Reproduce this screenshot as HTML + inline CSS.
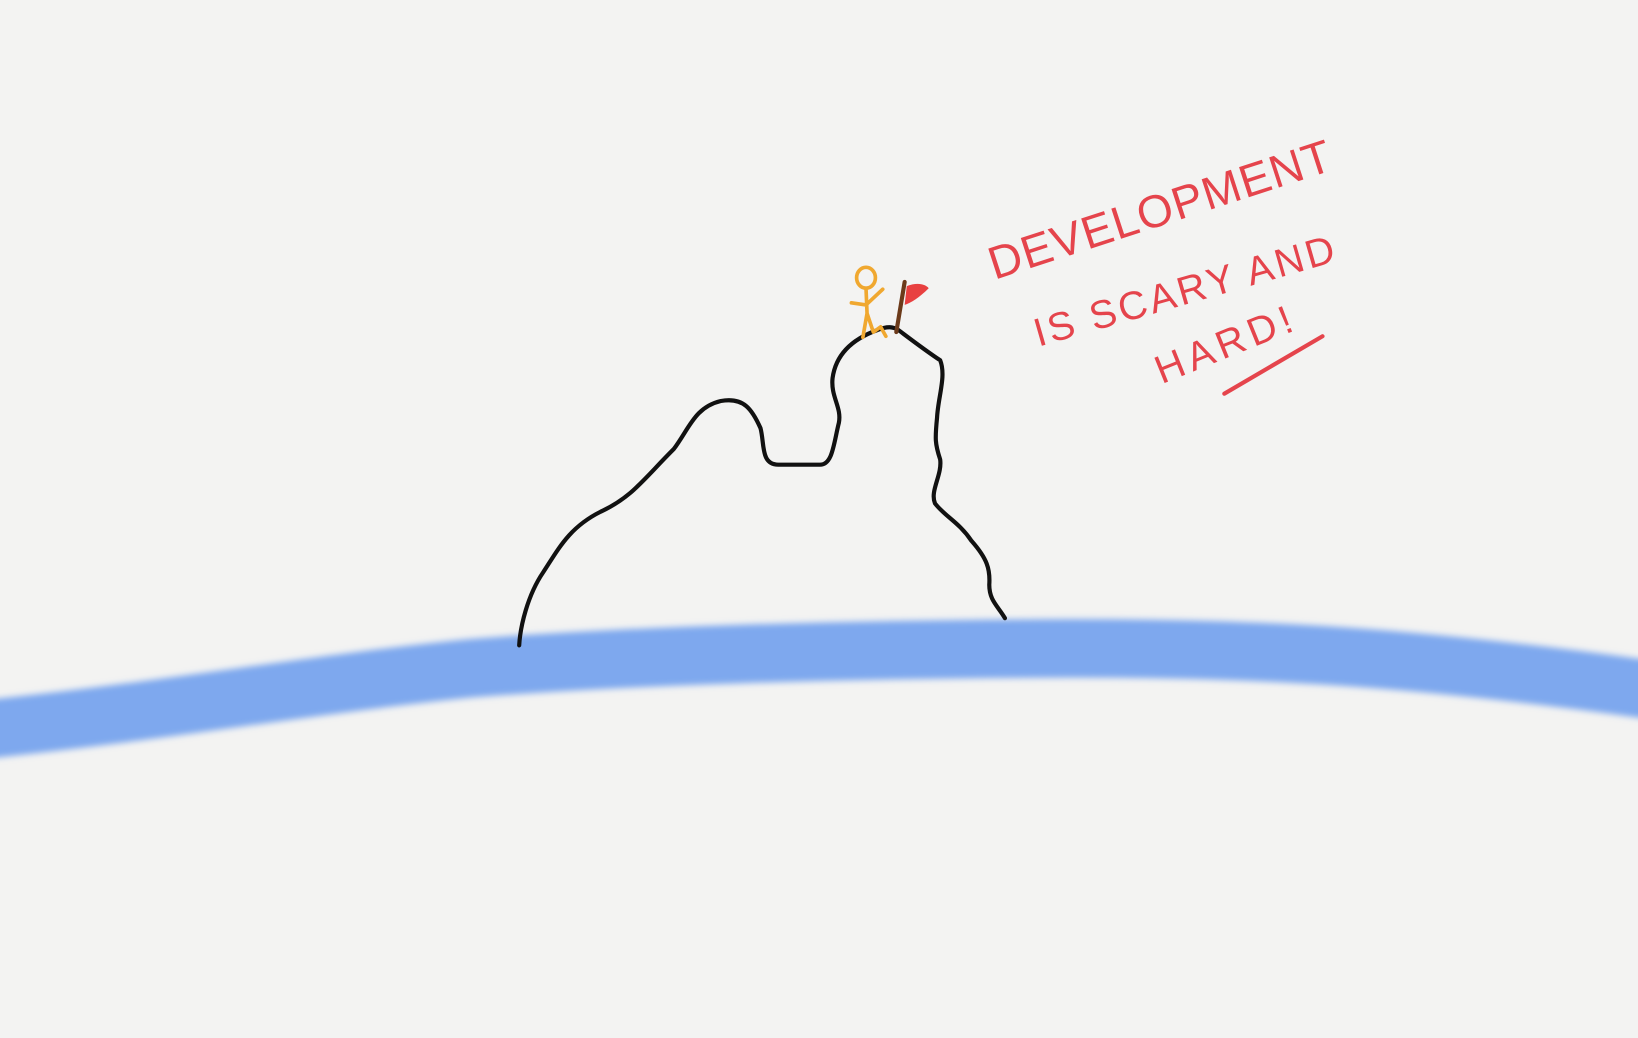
<!DOCTYPE html>
<html><head><meta charset="utf-8"><style>
html,body{margin:0;padding:0;background:#f3f3f2;}
svg{display:block;}
</style></head><body>
<svg width="1638" height="1038" viewBox="0 0 1568 994" preserveAspectRatio="none" xmlns="http://www.w3.org/2000/svg">
<defs>
<filter id="bl" x="-10%" y="-50%" width="120%" height="200%" filterUnits="objectBoundingBox"><feGaussianBlur stdDeviation="3"/></filter>
</defs>
<rect width="1568" height="994" fill="#f3f3f2"/>
<path d="M-20,699 C150,682 300,655 450,640 C600,628 800,622 1000,621 C1200,620 1350,628 1590,662" fill="none" stroke="#7ea8ee" stroke-width="56" filter="url(#bl)"/>
<path d="M497,618 C498,600 505,570 520,548 C535,525 545,505 575,490 C605,476 615,460 645,430 C660,410 665,390 690,384 C712,380 720,392 728,410 C732,425 728,445 745,445 L785,445 C797,445 798,425 803,405 C806,390 795,380 797,362 C800,340 815,325 840,316 C850,312 855,313 860,316 C872,325 885,335 900,345 C906,360 898,380 897,400 C895,420 895,425 900,440 C902,455 890,470 895,482 C905,495 918,500 930,518 C945,535 948,545 947,560 C947,575 955,580 962,592" fill="none" stroke="#111" stroke-width="4" stroke-linecap="round" stroke-linejoin="round"/>
<g stroke="#f0a830" stroke-width="3.5" fill="none" stroke-linecap="round" stroke-linejoin="round">
<ellipse cx="829" cy="266" rx="9" ry="10"/>
<path d="M829,276 L830,300 L836,318 M830,300 L826,323 M815,290 L829,292 L845,277 M836,318 L843,313 L848,322"/>
</g>
<path d="M866,270 L858,318" stroke="#6b3a1a" stroke-width="4" stroke-linecap="round"/>
<path d="M868,274 C878,270 886,272 889,276 C880,285 872,290 866,292 Z" fill="#e84040"/>
<g fill="#e5444c" font-family="'Liberation Sans',sans-serif">
<text x="952" y="268" font-size="44" letter-spacing="1" transform="rotate(-18 952 268)">DEVELOPMENT</text>
<text x="994" y="332" font-size="38" letter-spacing="3" transform="rotate(-16 994 332)">IS  SCARY AND</text>
<text x="1112" y="368" font-size="38" letter-spacing="5" transform="rotate(-22 1112 368)">HARD!</text>
</g>
<path d="M1172,377 L1266,322" stroke="#e5444c" stroke-width="4" stroke-linecap="round"/>
</svg>
</body></html>
